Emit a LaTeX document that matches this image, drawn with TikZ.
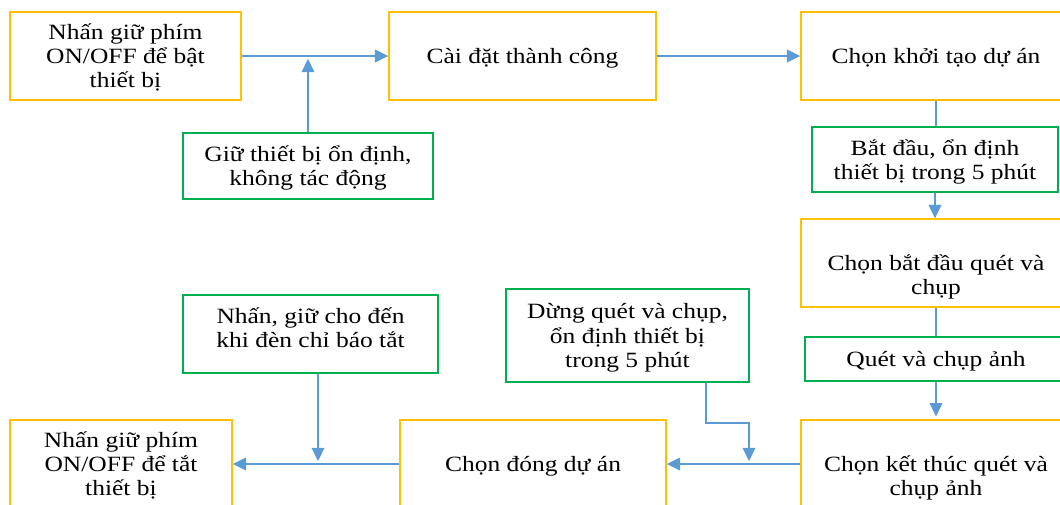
\documentclass[tikz,border=0pt]{standalone}
\usepackage{fontspec}
\setmainfont{Liberation Serif}[FakeStretch=1.17]
\usetikzlibrary{arrows.meta}
\definecolor{boxyellow}{RGB}{255,192,0}
\definecolor{boxgreen}{RGB}{0,176,80}
\definecolor{linkblue}{RGB}{91,155,213}
\newcommand{\boxtext}[1]{\raisebox{-2pt}[\height][\depth]{\begin{tabular}{@{}c@{}}#1\end{tabular}}}
\tikzstyle{stepbox}=[
    draw=boxyellow,
    line width=1pt,
    inner sep=0pt,
    minimum height=2.2cm,
    font=\fontsize{15.5}{17.2}\selectfont,
]
\tikzstyle{notebox}=[
    stepbox,
    draw=boxgreen,
]
\tikzstyle{link}=[
    draw=linkblue,
    line width=1pt,
    >={Triangle[length=9.5pt,width=9pt]},
]

\begin{document}
\begin{tikzpicture}
        \useasboundingbox (0,0) rectangle (26.5,-12.6);
        % top row
        \node[stepbox, minimum width=5.775cm] (on) at (3.1375,-1.4) {\boxtext{Nhấn giữ phím\\ON/OFF để bật\\thiết bị}};
        \node[stepbox, minimum width=6.675cm] (setup) at (13.0625,-1.4) {\boxtext{Cài đặt thành công}};
        \node[stepbox, minimum width=6.75cm] (init) at (23.4,-1.4) {\boxtext{Chọn khởi tạo dự án}};
        \node[notebox, minimum width=6.25cm, minimum height=1.65cm] (hold) at (7.7,-4.15) {\boxtext{Giữ thiết bị ổn định,\\không tác động}};
        % right column
        \node[notebox, minimum width=6.15cm, minimum height=1.625cm] (start) at (23.375,-3.9875) {\boxtext{Bắt đầu, ổn định\\thiết bị trong 5 phút}};
        \node[stepbox, minimum width=6.75cm] (scan) at (23.4,-6.575) {\boxtext{\mbox{}\\Chọn bắt đầu quét và\\chụp}};
        \node[notebox, minimum width=6.55cm, minimum height=1.1cm] (shoot) at (23.4,-8.975) {\boxtext{Quét và chụp ảnh}};
        \node[stepbox, minimum width=6.75cm] (finish) at (23.4,-11.6) {\boxtext{\mbox{}\\Chọn kết thúc quét và\\chụp ảnh}};
        % bottom row
        \node[notebox, minimum width=6.075cm, minimum height=2.325cm] (stop) at (15.6875,-8.3875) {\boxtext{Dừng quét và chụp,\\ổn định thiết bị\\trong 5 phút}};
        \node[stepbox, minimum width=6.65cm] (close) at (13.325,-11.6) {\boxtext{Chọn đóng dự án}};
        \node[notebox, minimum width=6.375cm, minimum height=1.95cm] (press) at (7.7625,-8.35) {\boxtext{Nhấn, giữ cho đến\\khi đèn chỉ báo tắt\\[-8pt]\mbox{}}};
        \node[stepbox, minimum width=5.55cm] (off) at (3.025,-11.6) {\boxtext{Nhấn giữ phím\\ON/OFF để tắt\\thiết bị}};

        \coordinate (holdjoin) at (hold.north |- on.east);
        \coordinate (stopbend) at (18.725,-10.575);
        \coordinate (stopjoin) at (18.725,-11.6);
        \coordinate (pressjoin) at (7.95,-11.6);

        \draw[link,->] (on) -- (setup);
        \draw[link,->, shorten >=2pt] (hold) -- (holdjoin);
        \draw[link,->] (setup) -- (init);
        \draw[link] (init.south) -- (init.south |- start.north);
        \draw[link,->] (start.south) -- (start.south |- scan.north);
        \draw[link] (scan) -- (shoot);
        \draw[link,->, shorten >=2pt] (shoot) -- (finish);
        \draw[link,->] (finish) -- (close);
        \draw[link,->, shorten >=2pt] ([xshift=1.9625cm]stop.south) |- (stopbend) -- (stopjoin);
        \draw[link,->, shorten >=2pt] ([xshift=0.1875cm]press.south) -- (pressjoin);
        \draw[link,->] (close) -- (off);
    \end{tikzpicture}
\end{document}
